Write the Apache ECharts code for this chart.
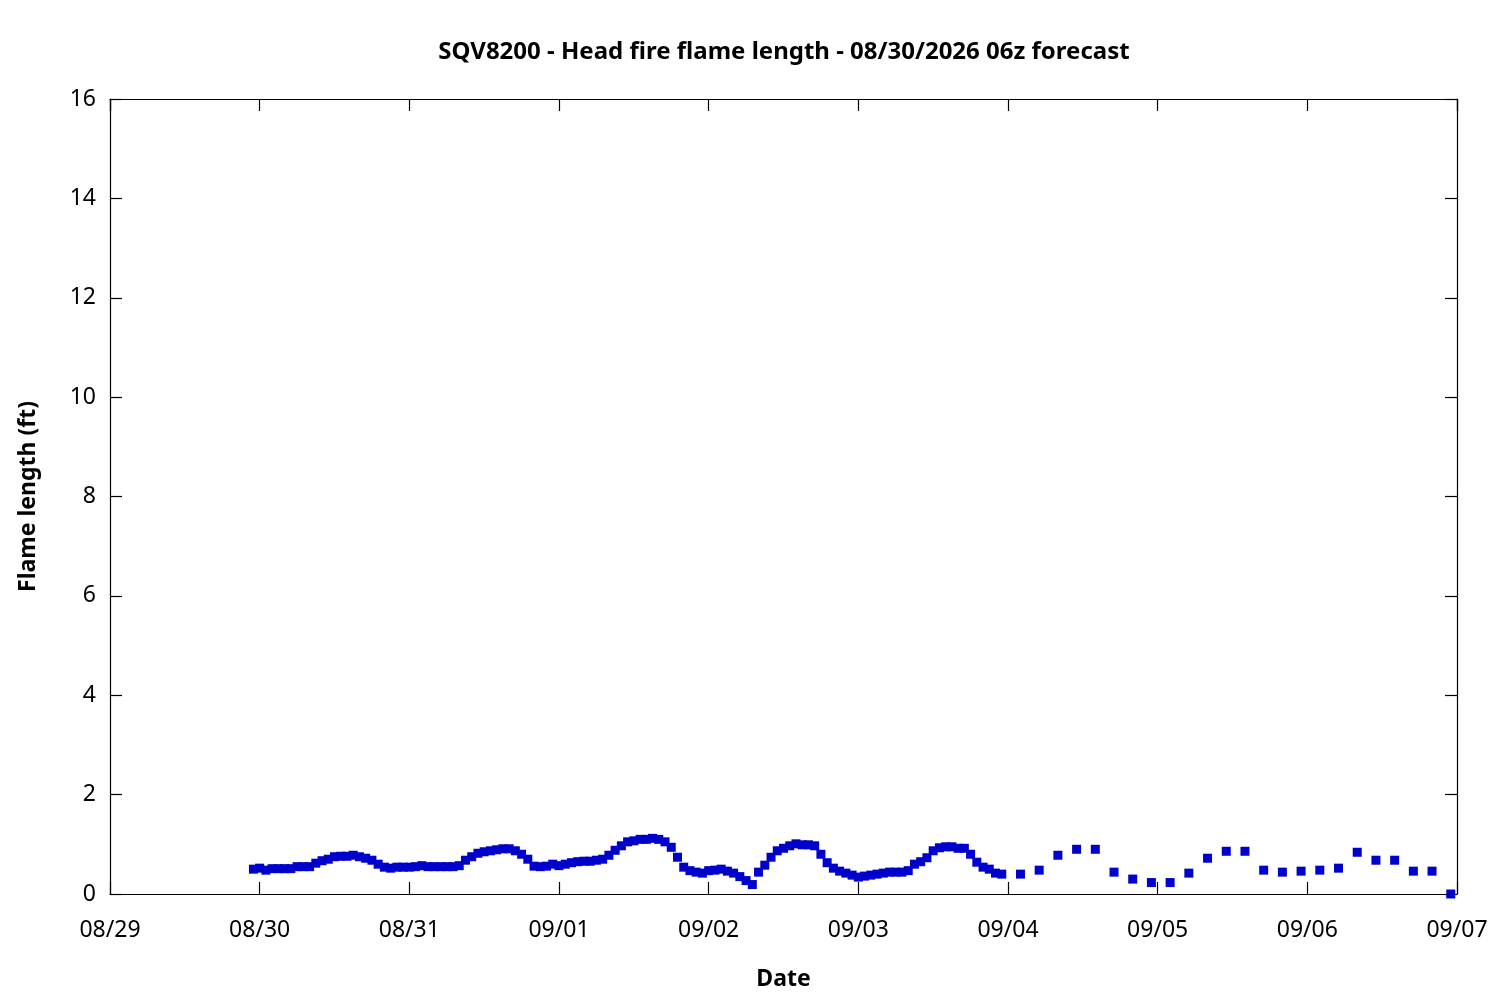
<!doctype html>
<html lang="en">
<head>
<meta charset="UTF-8">
<title>SQV8200 - Head fire flame length</title>
<script src="https://cdn.jsdelivr.net/npm/echarts@6/dist/echarts.min.js"></script>
<style>
  html, body { margin: 0; padding: 0; background: #fff; }
  #main { width: 1500px; height: 1000px; }
</style>
</head>
<body>
<div id="main"></div>
<script>
// hourly forecast, starting 08/29 23:00
var hourlyStart = '2026-08-29T23:00:00';
var hourlyValues = [
    0.50, 0.52, 0.48, 0.51, 0.51, 0.51, 0.51, 0.55, 0.55, 0.55,
    0.62, 0.67, 0.70, 0.75, 0.76, 0.76, 0.78, 0.75, 0.72, 0.68,
    0.60, 0.54, 0.52, 0.54, 0.54, 0.54, 0.55, 0.57, 0.55, 0.55,
    0.55, 0.55, 0.55, 0.57, 0.68, 0.75, 0.82, 0.85, 0.87, 0.89,
    0.91, 0.91, 0.87, 0.80, 0.70, 0.56, 0.55, 0.56, 0.60, 0.57,
    0.60, 0.63, 0.65, 0.66, 0.66, 0.68, 0.70, 0.78, 0.88, 0.97,
    1.05, 1.07, 1.10, 1.10, 1.12, 1.10, 1.05, 0.94, 0.74, 0.54,
    0.47, 0.44, 0.42, 0.47, 0.48, 0.50, 0.46, 0.42, 0.35, 0.27,
    0.19, 0.44, 0.58, 0.74, 0.87, 0.92, 0.97, 1.01, 0.99, 0.99,
    0.97, 0.80, 0.63, 0.52, 0.46, 0.42, 0.38, 0.34, 0.36, 0.38,
    0.40, 0.42, 0.44, 0.44, 0.44, 0.47, 0.60, 0.65, 0.73, 0.87,
    0.93, 0.95, 0.95, 0.92, 0.92, 0.80, 0.64, 0.54, 0.50, 0.42,
    0.40
];
// 3-hourly forecast, starting 09/04 02:00
var threeHourStart = '2026-09-04T02:00:00';
var threeHourValues = [
    0.40, 0.48, 0.78, 0.90, 0.90, 0.44, 0.30, 0.23,
    0.23, 0.42, 0.72, 0.86, 0.86, 0.48, 0.44, 0.46,
    0.48, 0.52, 0.84, 0.68, 0.68, 0.46, 0.46, 0.00
];
var xMin = '2026-08-29T00:00:00';
var xMax = '2026-09-07T00:00:00';
var yTicks = [0, 2, 4, 6, 8, 10, 12, 14, 16];

var HOUR = 3600 * 1000;
var DAY = 24 * HOUR;

function toPoints(start, step, values) {
    var t0 = new Date(start).getTime();
    return values.map(function (v, i) { return [t0 + i * step, v]; });
}
var points = toPoints(hourlyStart, HOUR, hourlyValues)
    .concat(toPoints(threeHourStart, 3 * HOUR, threeHourValues));

function pad(n) { return (n < 10 ? '0' : '') + n; }
function fmtDate(val) {
    var d = new Date(val);
    return pad(d.getMonth() + 1) + '/' + pad(d.getDate());
}

var font = '"Noto Sans", "Open Sans", sans-serif';
var tMin = new Date(xMin).getTime();
var tMax = new Date(xMax).getTime();

var myChart = echarts.init(document.getElementById('main'), null, { renderer: 'canvas' });

var xBase = {
    type: 'time',
    min: tMin,
    max: tMax,
    interval: DAY,
    splitLine: { show: false },
    axisLine: { show: true, onZero: false, lineStyle: { color: '#000', width: 1.2 } },
    axisTick: { show: true, inside: true, length: 12, lineStyle: { color: '#000', width: 1.2 } }
};
var yBase = {
    type: 'value',
    min: yTicks[0],
    max: yTicks[yTicks.length - 1],
    interval: 2,
    splitLine: { show: false },
    axisLine: { show: true, lineStyle: { color: '#000', width: 1.2 } },
    axisTick: { show: true, inside: true, length: 12, lineStyle: { color: '#000', width: 1.2 } }
};

var option = {
    backgroundColor: '#fff',
    animation: false,
    textStyle: { fontFamily: font },
    title: {
        text: 'SQV8200 - Head fire flame length - 08/30/2026 06z forecast',
        left: 779,
        textAlign: 'center',
        top: 35,
        textStyle: { fontFamily: font, fontSize: 24, fontWeight: 'bold', color: '#000' }
    },
    grid: { left: 110, right: 43, top: 99, bottom: 106 },
    xAxis: [
        Object.assign({}, xBase, {
            position: 'bottom',
            name: 'Date',
            nameLocation: 'middle',
            nameGap: 74,
            nameTextStyle: { fontFamily: font, fontSize: 23, fontWeight: 'bold', color: '#000' },
            axisLabel: {
                show: true, color: '#000', fontFamily: font, fontSize: 23, margin: 25,
                showMinLabel: true, showMaxLabel: true,
                formatter: function (v) { return fmtDate(v); }
            }
        }),
        Object.assign({}, xBase, { position: 'top', axisLabel: { show: false } })
    ],
    yAxis: [
        Object.assign({}, yBase, {
            position: 'left',
            name: 'Flame length (ft)',
            nameLocation: 'middle',
            nameGap: 70,
            nameRotate: 90,
            nameTextStyle: { fontFamily: font, fontSize: 23, fontWeight: 'bold', color: '#000' },
            axisLabel: { show: true, color: '#000', fontFamily: font, fontSize: 23, margin: 14 }
        }),
        Object.assign({}, yBase, { position: 'right', axisLabel: { show: false } })
    ],
    series: [{
        type: 'scatter',
        xAxisIndex: 0,
        yAxisIndex: 0,
        symbol: 'rect',
        symbolSize: 9,
        itemStyle: { color: '#0000CC', opacity: 1 },
        data: points
    }]
};

myChart.setOption(option);
</script>
</body>
</html>
